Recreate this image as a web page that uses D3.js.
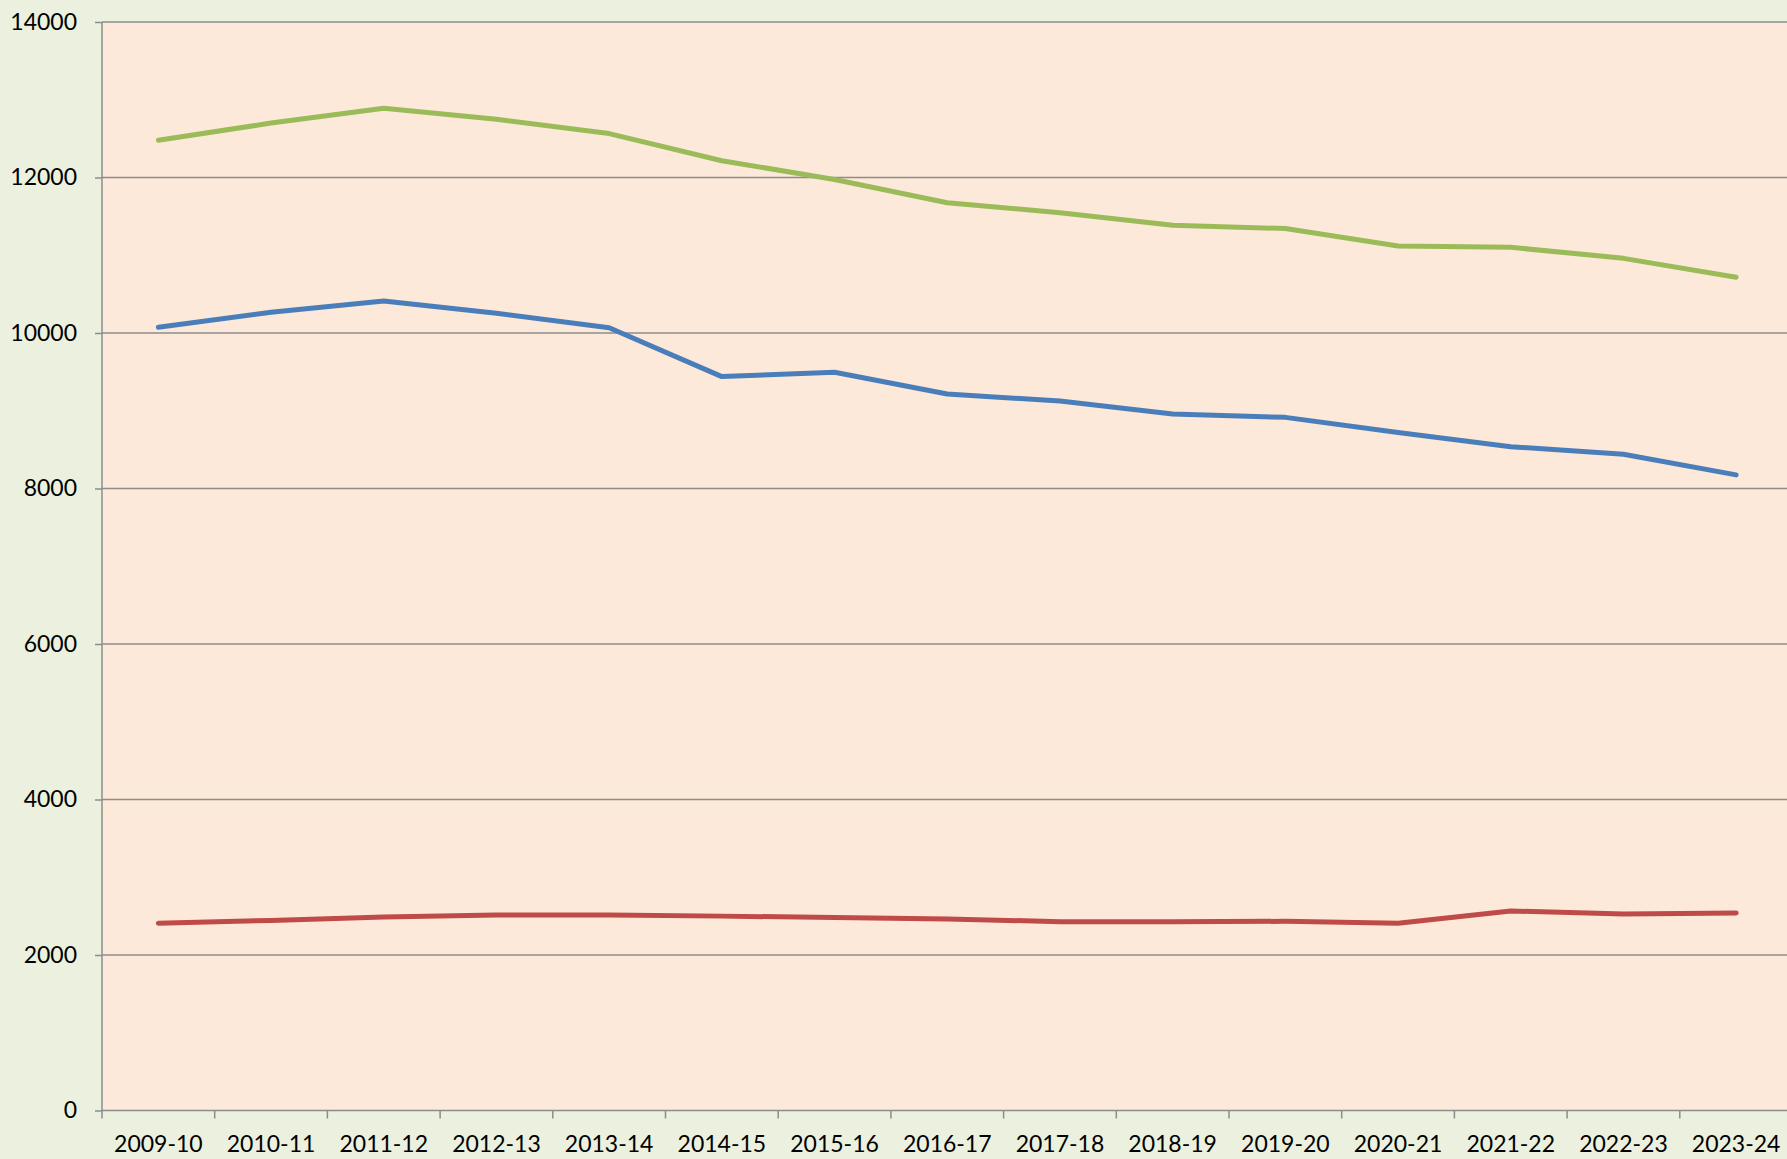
<!DOCTYPE html>
<html>

<head>
    <title>Line chart 2009-10 to 2023-24</title>
    <meta charset="utf-8" />
    <script src="https://d3js.org/d3.v7.min.js"></script>
</head>

<style>
    body {
        margin: 0;
        background: #ebf1de;
    }

    .tick text {
        font: 23px Lato, "Open Sans", sans-serif;
        fill: #000;
    }
</style>

<body>

    <svg id="chart" width="1787" height="1159"></svg>

    <script>

        let years = ['2009-10', '2010-11', '2011-12', '2012-13', '2013-14', '2014-15', '2015-16', '2016-17',
            '2017-18', '2018-19', '2019-20', '2020-21', '2021-22', '2022-23', '2023-24'];

        let greenValues = [12480, 12700, 12890, 12750, 12565, 12216, 11975, 11675, 11548, 11385, 11344, 11120, 11102, 10960, 10718];
        let blueValues = [10075, 10266, 10412, 10253, 10068, 9439, 9495, 9216, 9125, 8957, 8915, 8720, 8538, 8440, 8175];
        let redValues = [2408, 2445, 2490, 2515, 2515, 2500, 2482, 2464, 2429, 2429, 2433, 2407, 2566, 2528, 2540];

        let yTicks = [0, 2000, 4000, 6000, 8000, 10000, 12000, 14000];

        let series = [
            { values: greenValues, color: '#9bbb59' },
            { values: blueValues, color: '#4a7ebb' },
            { values: redValues, color: '#be4b48' }
        ];

        let chartW = 1787;
        let plotLeft = 102, plotTop = 22, plotBottom = 1110.5;
        let bandW = 112.7;

        let svg = d3.select('#chart');

        let x = d3.scaleBand().domain(years).range([plotLeft, plotLeft + bandW * years.length]);
        let y = d3.scaleLinear().domain([0, 14000]).range([plotBottom, plotTop]);

        // plot area background
        svg.append('rect')
            .attr('x', plotLeft).attr('y', plotTop)
            .attr('width', chartW - plotLeft).attr('height', plotBottom - plotTop)
            .attr('fill', '#fde9d9');

        // y labels + small ticks
        let yAxis = svg.append('g')
            .attr('transform', 'translate(' + plotLeft + ',0)')
            .call(d3.axisLeft(y).tickValues(yTicks).tickSize(7).tickPadding(18).tickFormat(d3.format('d')));
        yAxis.select('.domain').remove();
        yAxis.selectAll('.tick line').attr('stroke', '#8c8c8c').attr('stroke-width', 1.5);

        // gridlines
        svg.append('g').selectAll('line')
            .data(yTicks)
            .enter()
            .append('line')
            .attr('x1', plotLeft).attr('x2', chartW)
            .attr('y1', d => y(d)).attr('y2', d => y(d))
            .attr('stroke', '#8c8c8c')
            .attr('stroke-width', 1.5);

        // left axis line
        svg.append('line')
            .attr('x1', plotLeft).attr('x2', plotLeft)
            .attr('y1', plotTop).attr('y2', plotBottom)
            .attr('stroke', '#8c8c8c')
            .attr('stroke-width', 1.5);

        // x axis: tick marks on band edges, labels at band centres
        let xAxis = svg.append('g')
            .attr('transform', 'translate(0,' + plotBottom + ')')
            .call(d3.axisBottom(x).tickSize(0).tickPadding(25));
        xAxis.select('.domain').remove();

        svg.append('g').selectAll('line')
            .data(years)
            .enter()
            .append('line')
            .attr('x1', d => x(d)).attr('x2', d => x(d))
            .attr('y1', plotBottom).attr('y2', plotBottom + 8)
            .attr('stroke', '#8c8c8c')
            .attr('stroke-width', 1.5);

        let line = d3.line()
            .x((d, i) => x(years[i]) + x.bandwidth() / 2)
            .y(d => y(d));

        svg.append('g').selectAll('path')
            .data(series)
            .enter()
            .append('path')
            .attr('d', d => line(d.values))
            .attr('fill', 'none')
            .attr('stroke', d => d.color)
            .attr('stroke-width', 5)
            .attr('stroke-linejoin', 'round')
            .attr('stroke-linecap', 'round');

    </script>

</body>

</html>
